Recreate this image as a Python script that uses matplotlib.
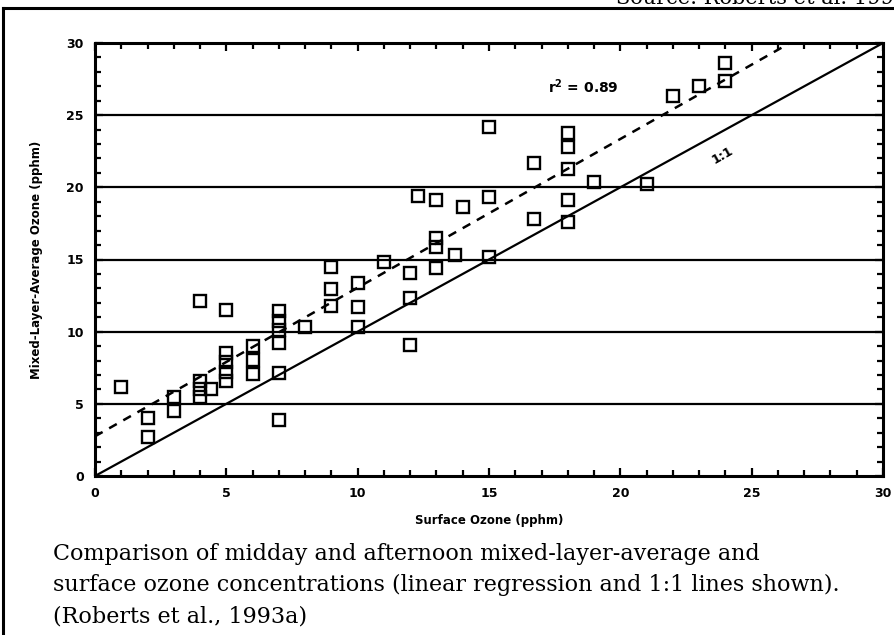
import matplotlib
matplotlib.use("Agg")
import matplotlib.pyplot as plt
from matplotlib.ticker import MultipleLocator
import numpy as np

# ---- data ----
surface_ozone = [1, 2, 2, 3, 3, 4, 4, 4, 4, 4.4,
                 5, 5, 5, 5, 5, 6, 6, 6,
                 7, 7, 7, 7, 7, 7, 8,
                 9, 9, 9, 10, 10, 10, 11, 12, 12, 12, 12.3,
                 13, 13, 13, 13, 13.7, 14, 15, 15, 15,
                 16.7, 16.7, 18, 18, 18, 18, 18, 19, 21, 22, 23, 24, 24]
mixed_layer_ozone = [6.2, 4.0, 2.7, 5.5, 4.5, 12.1, 6.6, 6.0, 5.45, 6.0,
                     11.5, 8.5, 7.9, 7.2, 6.6, 9.0, 8.05, 7.05,
                     11.45, 10.75, 10.1, 9.2, 7.15, 3.9, 10.3,
                     14.5, 12.95, 11.75, 13.35, 11.7, 10.3, 14.8, 14.05, 12.3, 9.1, 19.4,
                     19.15, 16.5, 15.9, 14.4, 15.3, 18.65, 24.2, 19.35, 15.2,
                     21.7, 17.8, 23.75, 22.8, 21.25, 19.1, 17.6, 20.4, 20.2, 26.3, 27.0, 28.6, 27.4]
regression_intercept = 2.75
regression_slope = 1.03
r_squared = "0.89"
hlines_y = [5, 10, 15, 20, 25]
x_ticks = [0, 5, 10, 15, 20, 25, 30]
y_ticks = [0, 5, 10, 15, 20, 25, 30]

W, H = 894, 635
fig = plt.figure(figsize=(W / 100, H / 100), dpi=100)
fig.patch.set_facecolor("white")

def fx(px):
    return px / W

def fy(py):
    return 1 - py / H

ax = fig.add_axes([fx(95), fy(476), fx(883) - fx(95), fy(43) - fy(476)])
ax.set_xlim(0, 30)
ax.set_ylim(0, 30)

for y in hlines_y:
    ax.axhline(y, color="black", lw=1.6, zorder=1)

xs = np.array([0, 30])
ax.plot(xs, xs, color="black", lw=1.6, zorder=2)
ax.plot(xs, regression_intercept + regression_slope * xs, color="black", lw=1.8,
        dashes=(3.5, 3), zorder=2)

ax.plot(surface_ozone, mixed_layer_ozone, linestyle="none", marker="s", ms=8.5,
        mfc="none", mec="black", mew=1.7, zorder=3)

ax.xaxis.set_major_locator(MultipleLocator(5))
ax.xaxis.set_minor_locator(MultipleLocator(1))
ax.yaxis.set_major_locator(MultipleLocator(5))
ax.yaxis.set_minor_locator(MultipleLocator(1))
ax.set_xticks(x_ticks)
ax.set_yticks(y_ticks)
ax.tick_params(which="both", direction="in", top=True, right=True, width=1.6,
               colors="black")
ax.tick_params(which="major", length=6, pad=8, labelsize=9)
ax.tick_params(which="minor", length=4)
for lab in ax.get_xticklabels() + ax.get_yticklabels():
    lab.set_fontweight("bold")

for sp in ax.spines.values():
    sp.set_linewidth(2.2)

ax.set_xlabel("Surface Ozone (pphm)", fontsize=8.5, fontweight="bold", labelpad=10)
ax.set_ylabel("Mixed-Layer-Average Ozone (pphm)", fontsize=8.5, fontweight="bold",
              labelpad=17)

ax.text(17.25, 26.95, r"r$^{\mathbf{2}}$ = " + r_squared, fontsize=10, fontweight="bold",
        va="center", ha="left")
ax.text(23.9, 22.2, "1:1", fontsize=9, fontweight="bold", rotation=30,
        va="center", ha="center")

# caption and source
cap_kw = dict(family="DejaVu Serif", fontsize=16, ha="left", va="baseline")
fig.text(fx(53), fy(560), "Comparison of midday and afternoon mixed-layer-average and", **cap_kw)
fig.text(fx(53), fy(591), "surface ozone concentrations (linear regression and 1:1 lines shown).", **cap_kw)
fig.text(fx(53), fy(622), "(Roberts et al., 1993a)", **cap_kw)
fig.text(fx(616), fy(4), "Source: Roberts et al. 1993a", family="DejaVu Serif",
         fontsize=15, ha="left", va="baseline")

# frame around figure (top and left visible)
fig.add_artist(plt.Line2D([fx(3), fx(894)], [fy(8), fy(8)], color="black", lw=2.2))
fig.add_artist(plt.Line2D([fx(3), fx(3)], [fy(8), fy(635)], color="black", lw=2.2))

fig.savefig("out.png", dpi=100)
